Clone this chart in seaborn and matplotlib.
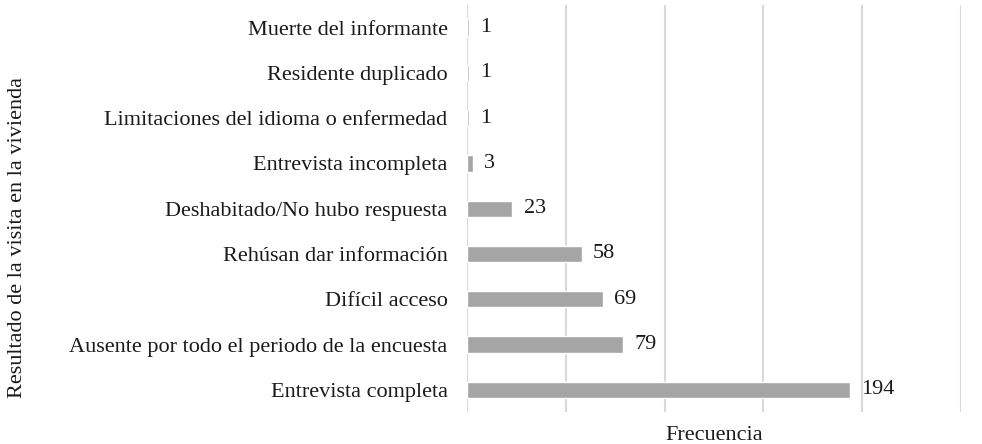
import matplotlib
matplotlib.use("Agg")
import matplotlib.pyplot as plt
import pandas as pd
import seaborn as sns

# ── data ────────────────────────────────────────────────────────────────
categorias = [
    "Muerte del informante",
    "Residente duplicado",
    "Limitaciones del idioma o enfermedad",
    "Entrevista incompleta",
    "Deshabitado/No hubo respuesta",
    "Rehúsan dar información",
    "Difícil acceso",
    "Ausente por todo el periodo de la encuesta",
    "Entrevista completa",
]
frecuencias = [1, 1, 1, 3, 23, 58, 69, 79, 194]
x_ticks = [0, 50, 100, 150, 200, 250]

df = pd.DataFrame({"categoria": categorias, "frecuencia": frecuencias})

sns.set_theme(style="white")
plt.rcParams["font.family"] = ["Liberation Serif", "DejaVu Serif"]

FS = 16
TXT = "#1a1a1a"

fig = plt.figure(figsize=(9.82, 4.44), dpi=100)
ax = fig.add_axes([0.4756, 0.071, 0.503, 0.918])

sns.barplot(data=df, x="frecuencia", y="categoria", orient="h",
            color="#a5a5a5", saturation=1, width=0.36, ax=ax)

# value labels
for cont in ax.containers:
    ax.bar_label(cont, labels=[str(v) for v in frecuencias],
                 padding=8, fontsize=FS, color=TXT)

ax.set_xlim(0, 250)
ax.set_xticks(x_ticks)
ax.set_xticklabels([])
ax.grid(axis="x", color="#d9d9d9", linewidth=1.5)
ax.set_axisbelow(True)
for s in ax.spines.values():
    s.set_visible(False)
ax.tick_params(axis="both", length=0)
ax.tick_params(axis="y", labelsize=FS, labelcolor=TXT, pad=14)

ax.set_xlabel("Frecuencia", fontsize=FS, color=TXT, labelpad=6)
ax.set_ylabel("")
fig.text(0.018, 0.466, "Resultado de la visita en la vivienda",
         rotation=90, fontsize=FS, color=TXT, ha="center", va="center")

fig.savefig("out.png", dpi=100)
plt.close(fig)
